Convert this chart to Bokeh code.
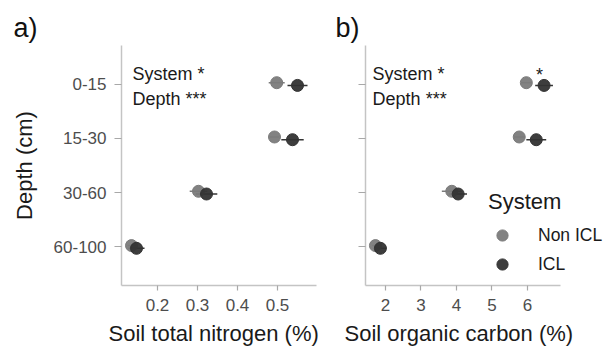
from bokeh.plotting import figure
from bokeh.models import (FactorRange, Range1d, Legend, LegendItem, ColumnDataSource,
                          Title, FixedTicker, CustomJSTickFormatter)
from bokeh.transform import dodge
from bokeh.layouts import row
from bokeh.core.properties import value
from bokeh.embed import file_html
from bokeh.resources import INLINE

# ---------------- data ----------------
depth = ["0-15", "15-30", "30-60", "60-100"]
systems = ["Non ICL", "ICL"]

tn_non = [0.498, 0.4925, 0.3025, 0.135]
tn_icl = [0.550, 0.5375, 0.3225, 0.1475]
tn_non_se = [0.020, 0.012, 0.022, 0.010]
tn_icl_se = [0.025, 0.028, 0.027, 0.020]

soc_non = [5.97, 5.77, 3.87, 1.72]
soc_icl = [6.47, 6.25, 4.05, 1.86]
soc_non_se = [0.15, 0.15, 0.28, 0.10]
soc_icl_se = [0.25, 0.28, 0.25, 0.17]

tn_ticks = [0.2, 0.3, 0.4, 0.5]
soc_ticks = [2, 3, 4, 5, 6]

stats_text = ["System *", "Depth ***"]

FONT = "Liberation Sans"
C_NON = "#7b7b7b"
C_ICL = "#333333"


def panel(letter, xr, xbounds, fw, ticks, non, icl, non_se, icl_se, show_ylab,
          width_left, width_right, title_offset, text_x):
    p = figure(frame_width=fw, frame_height=240,
               x_range=Range1d(*xr),
               y_range=FactorRange(factors=list(reversed(depth)), range_padding=0.21,
                                   range_padding_units="absolute"),
               output_backend="svg", toolbar_location=None,
               min_border_left=width_left, min_border_right=width_right,
               min_border_top=45, min_border_bottom=64)
    p.outline_line_color = None
    p.xgrid.grid_line_color = None
    p.ygrid.grid_line_color = None
    p.background_fill_color = "white"
    p.border_fill_color = "white"

    src = ColumnDataSource(dict(
        depth=depth, non=non, icl=icl,
        non_lo=[m - s for m, s in zip(non, non_se)], non_hi=[m + s for m, s in zip(non, non_se)],
        icl_lo=[m - s for m, s in zip(icl, icl_se)], icl_hi=[m + s for m, s in zip(icl, icl_se)],
    ))
    yn = dodge("depth", 0.025, range=p.y_range)
    yi = dodge("depth", -0.025, range=p.y_range)
    p.segment(x0="non_lo", x1="non_hi", y0=yn, y1=yn, source=src, line_color=C_NON, line_width=1.5)
    p.segment(x0="icl_lo", x1="icl_hi", y0=yi, y1=yi, source=src, line_color=C_ICL, line_width=1.5)
    r_non = p.scatter(x="non", y=yn, source=src, size=12, fill_color=C_NON, line_color=C_NON,
                      fill_alpha=0.95)
    r_icl = p.scatter(x="icl", y=yi, source=src, size=12, fill_color=C_ICL, line_color=C_ICL,
                      fill_alpha=0.95)

    # statistics annotation
    p.text(x=[text_x, text_x], y=[3.684, 3.228], text=stats_text,
           text_font=value(FONT), text_font_size="18px", text_color="#1a1a1a",
           text_baseline="alphabetic", text_align="left")

    # axes
    p.xaxis.ticker = FixedTicker(ticks=ticks)
    p.xaxis.bounds = xbounds
    for ax in (p.xaxis, p.yaxis):
        ax.axis_line_color = "#c4c4c4"
        ax.axis_line_width = 1.5
        ax.major_tick_line_color = "#a8a8a8"
        ax.major_tick_line_width = 1.2
        ax.major_tick_in = 0
        ax.minor_tick_line_color = None
        ax.major_label_text_font = FONT
        ax.major_label_text_font_size = "17px"
        ax.major_label_text_color = "#4d4d4d"
        ax.axis_label_text_font = FONT
        ax.axis_label_text_font_size = "22px"
        ax.axis_label_text_font_style = "normal"
        ax.axis_label_text_color = "#1a1a1a"
    p.xaxis.major_tick_out = 5
    p.xaxis.major_label_standoff = 8
    p.yaxis.major_tick_out = 7
    p.yaxis.major_label_standoff = 8
    p.yaxis.axis_label_standoff = 14
    if show_ylab:
        p.yaxis.axis_label = "Depth (cm)"
    else:
        p.yaxis.formatter = CustomJSTickFormatter(code="return ''")
        p.yaxis.major_label_standoff = 0

    p.title = Title(text=letter, align="left", offset=title_offset, text_font=FONT,
                    text_font_size="27px", text_font_style="normal", text_color="#111111",
                    standoff=6)
    return p, r_non, r_icl


def xtitle(p, text, offset):
    p.add_layout(Title(text=text, align="left", offset=offset, text_font=FONT,
                       text_font_size="22px", text_font_style="normal", text_color="#1a1a1a",
                       vertical_align="top", standoff=14), "below")


p1, _, _ = panel("a)", (0.11, 0.5975), (0.11, 0.5975), 195, tn_ticks,
                 tn_non, tn_icl, tn_non_se, tn_icl_se, True, 121, 14, -108, 0.1375)
p2, rn, ri = panel("b)", (1.44, 8.172), (1.44, 6.93), 239, soc_ticks,
                   soc_non, soc_icl, soc_non_se, soc_icl_se, False, 35, 0, -30, 1.64)
xtitle(p1, "Soil total nitrogen (%)", -13)
xtitle(p2, "Soil organic carbon (%)", -21)

# single star above ICL 0-15 in panel b
p2.text(x=[6.34], y=[3.666], text=["*"], text_font=value(FONT), text_font_size="18px",
        text_color="#1a1a1a", text_align="center", text_baseline="alphabetic")

legend = Legend(items=[LegendItem(label=systems[0], renderers=[rn]),
                       LegendItem(label=systems[1], renderers=[ri])],
                title="System", location=(123, 7), orientation="vertical",
                glyph_width=28, glyph_height=28, label_standoff=22, spacing=1,
                padding=0, margin=0, border_line_color=None, background_fill_alpha=0,
                label_text_font=FONT, label_text_font_size="17.5px", label_text_color="#1a1a1a",
                title_text_font=FONT, title_text_font_size="22px", title_text_font_style="normal",
                title_text_color="#1a1a1a", title_standoff=6)
p2.add_layout(legend, "center")

layout = row(p1, p2)
open("out.html", "w").write(file_html(layout, INLINE))
